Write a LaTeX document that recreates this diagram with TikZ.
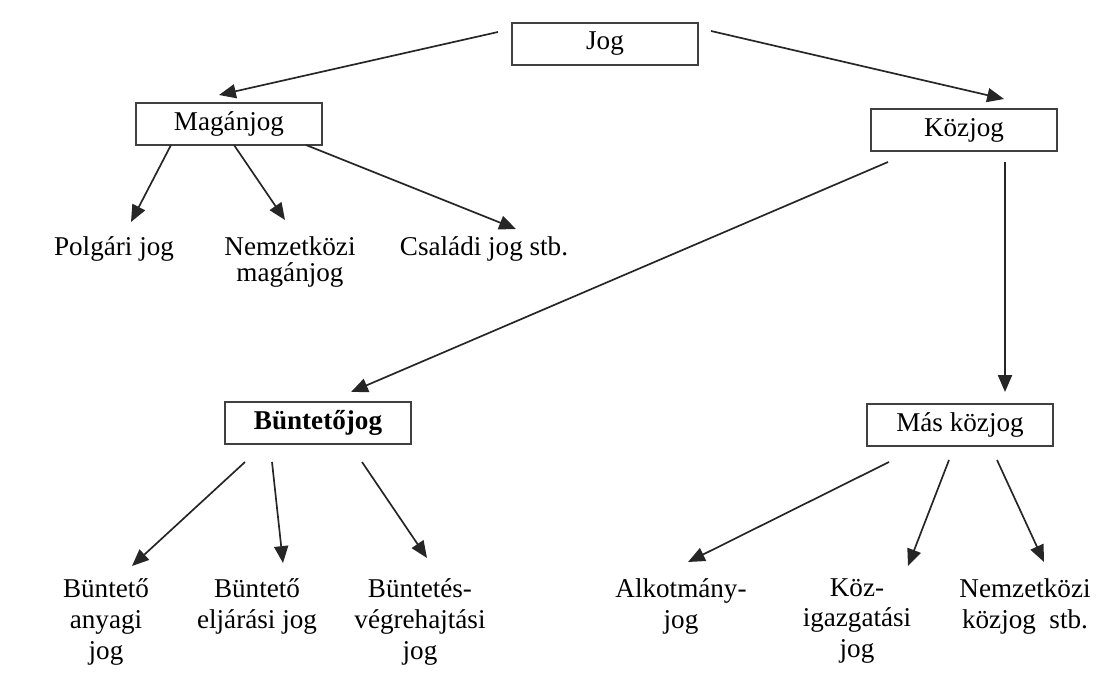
\documentclass[tikz,border=0pt]{standalone}
\usepackage{fontspec}
\setmainfont{Liberation Serif}
\usetikzlibrary{arrows.meta,calc}

\tikzset{
  box/.style={draw=black!75, line width=1.3pt, minimum width=4.63cm, minimum height=1.05cm, inner sep=0pt},
  leaf/.style={anchor=north, align=center, inner sep=0pt},
  arr/.style={line width=1.2pt, draw=black!85, -{Triangle[length=12pt,width=10pt]}}
}

\begin{document}
\begin{tikzpicture}[x=0.025cm, y=-0.025cm]
                    \useasboundingbox (0,0) rectangle (1096,681);
                    {\fontsize{19.3}{19.5}\selectfont

                    % Marking boxes
                    \node [box] (jog) at (605,44) {Jog};%
                    \node [box] (magan) at (229,124) {Magánjog};%
                    \node [box] (koz) at (964,130) {Közjog};%
                    \node [box] (bunt) at (318,423) {\bfseries Büntetőjog};%
                    \node [box] (mas) at (960,425) {Más közjog};%

                    % Marking leaves under Magánjog
                    \node [leaf] (polgari) at (114,236) {Polgári jog};%
                    \node [leaf] (nemzmagan) at (290,236) {Nemzetközi\\[-0.5pt]magánjog};%
                    \node [leaf] (csaladi) at (484,236) {Családi jog stb.};%

                    % Marking leaves under Büntetőjog
                    \node [leaf] (anyagi) at (106,578) {Büntető\\[2.5pt]anyagi\\[2.5pt]jog};%
                    \node [leaf] (eljarasi) at (257,578) {Büntető\\[2.5pt]eljárási jog};%
                    \node [leaf] (vegreh) at (420,578) {Büntetés-\\[2.5pt]végrehajtási\\[2.5pt]jog};%

                    % Marking leaves under Más közjog
                    \node [leaf] (alkot) at (681,578) {Alkotmány-\\[2.5pt]jog};%
                    \node [leaf] (kozig) at (857,578) {Köz-\\[2.5pt]igazgatási\\[2.5pt]jog};%
                    \node [leaf] (nemzkoz) at (1025,578) {Nemzetközi\\[2.5pt]közjog~ stb.};%

                    % Drawing arrows from Jog
                    \draw [arr] ($(jog)+(-107,-12)$) -- ($(magan)+(-10,-29)$);%
                    \draw [arr] ($(jog)+(106,-13)$) -- ($(koz)+(40,-31)$);%

                    % Drawing arrows from Magánjog
                    \draw [arr] ($(magan)+(-58,21)$) -- ($(polgari.north)+(17,-14)$);%
                    \draw [arr] ($(magan)+(5,21)$) -- ($(nemzmagan.north)+(-5,-16)$);%
                    \draw [arr] ($(magan)+(77,21)$) -- ($(csaladi.north)+(32,-7)$);%

                    % Drawing arrows from Közjog
                    \draw [arr] ($(koz)+(-76,32)$) -- ($(bunt)+(33,-31)$);%
                    \draw [arr] ($(koz)+(41,32)$) -- ($(mas)+(45,-33)$);%

                    % Drawing arrows from Büntetőjog
                    \draw [arr] ($(bunt)+(-73,39)$) -- ($(anyagi.north)+(26,-12)$);%
                    \draw [arr] ($(bunt)+(-46,39)$) -- ($(eljarasi.north)+(26,-15)$);%
                    \draw [arr] ($(bunt)+(44,39)$) -- ($(vegreh.north)+(7,-20)$);%

                    % Drawing arrows from Más közjog
                    \draw [arr] ($(mas)+(-71,37)$) -- ($(alkot.north)+(7,-16)$);%
                    \draw [arr] ($(mas)+(-11,35)$) -- ($(kozig.north)+(51,-12)$);%
                    \draw [arr] ($(mas)+(37,35)$) -- ($(nemzkoz.north)+(19,-16)$);%
                    }
\end{tikzpicture}
\end{document}
